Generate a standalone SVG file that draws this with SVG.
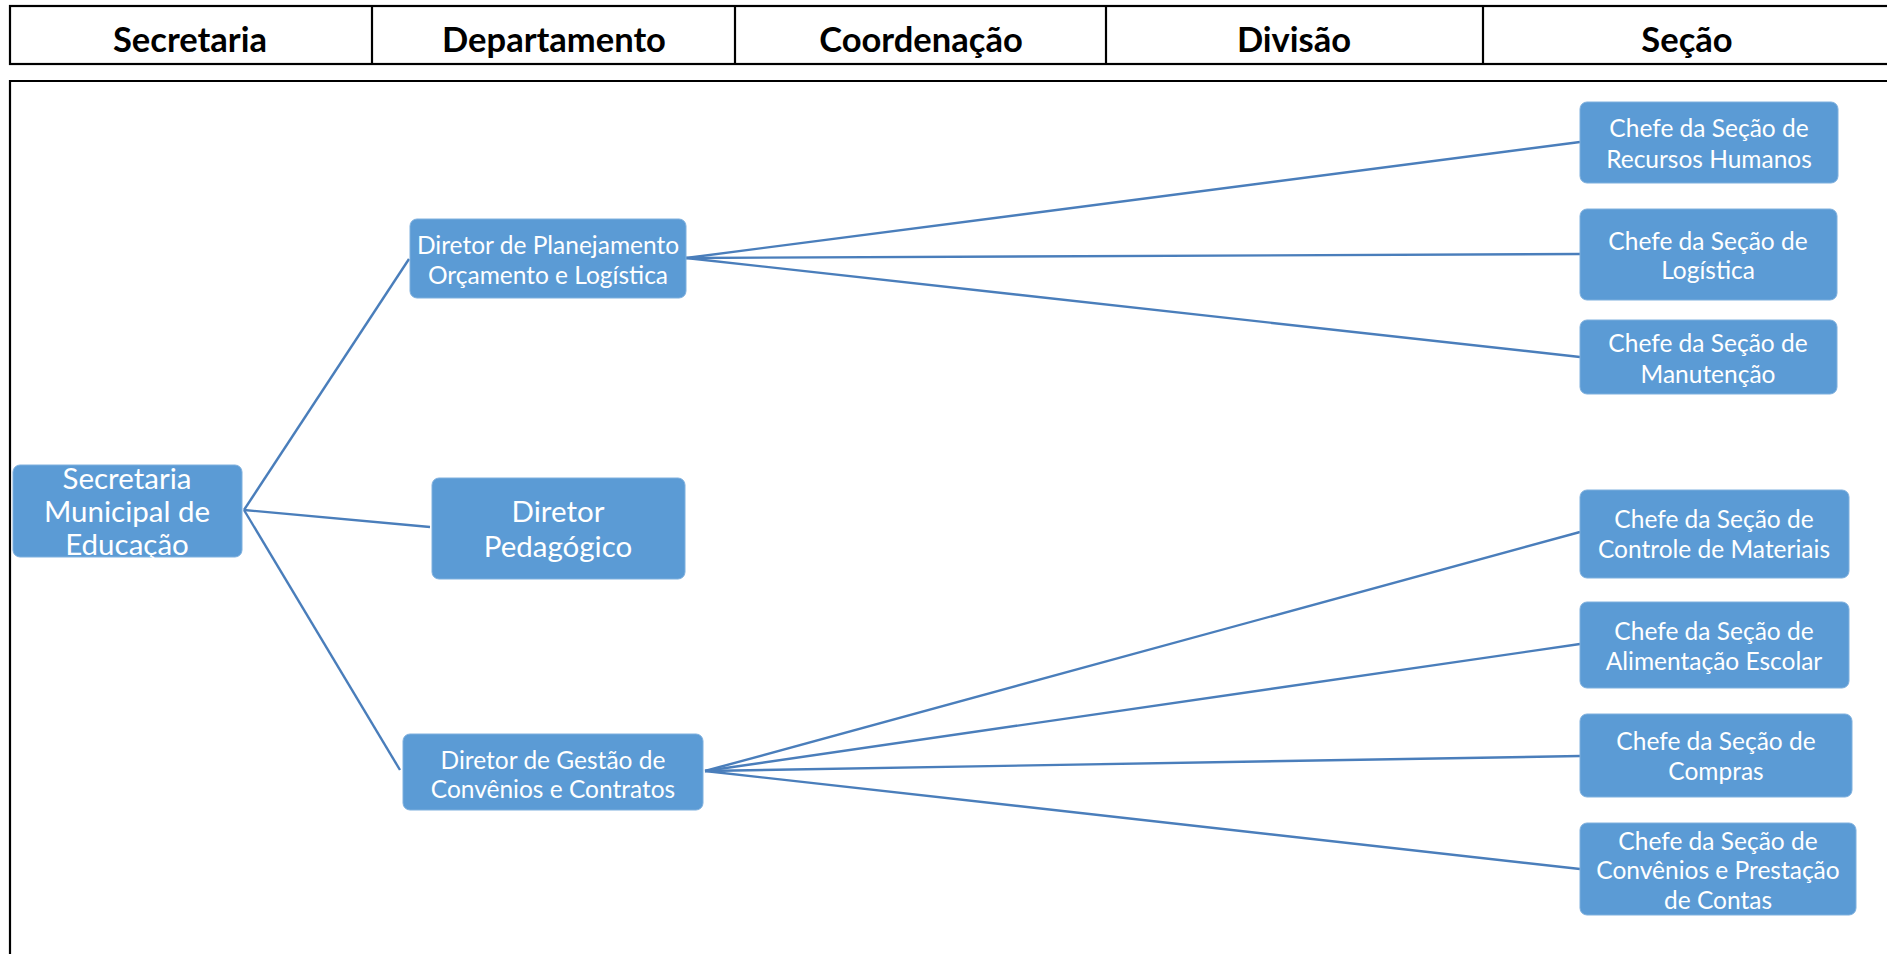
<svg xmlns="http://www.w3.org/2000/svg" width="1887" height="954" viewBox="0 0 1887 954">
<style>
.frame{fill:none;stroke:#000;stroke-width:2.2}
.hdr{font-family:Lato,"Liberation Sans",sans-serif;font-weight:bold;font-size:34.5px;fill:#000;text-anchor:middle}
.box{fill:#5b9bd5;stroke:#7fb0de;stroke-width:1}
.t{font-family:Lato,"Liberation Sans",sans-serif;font-size:24.5px;fill:#fff;text-anchor:middle;dominant-baseline:central}
.tb{font-size:29.5px}
.ln{stroke:#4a7ebb;stroke-width:2.4;fill:none}
</style>
<rect width="1887" height="954" fill="#fff"/>
<g id="header">
<rect class="frame" x="10" y="6" width="1890" height="58"/>
<line class="frame" x1="372" y1="6" x2="372" y2="64"/>
<line class="frame" x1="735" y1="6" x2="735" y2="64"/>
<line class="frame" x1="1106" y1="6" x2="1106" y2="64"/>
<line class="frame" x1="1483" y1="6" x2="1483" y2="64"/>
<text class="hdr" x="190" y="52">Secretaria</text>
<text class="hdr" x="554" y="52">Departamento</text>
<text class="hdr" x="921" y="52">Coordenação</text>
<text class="hdr" x="1294" y="52">Divisão</text>
<text class="hdr" x="1687" y="52">Seção</text>
</g>
<g id="body-frame">
<polyline class="frame" points="1890,81 10,81 10,956"/>
</g>
<g id="connectors">
<line class="ln" x1="244" y1="510" x2="409" y2="259"/>
<line class="ln" x1="244" y1="510" x2="430" y2="527"/>
<line class="ln" x1="244" y1="510" x2="400" y2="770"/>
<line class="ln" x1="686" y1="258" x2="1580" y2="142"/>
<line class="ln" x1="686" y1="258" x2="1580" y2="254"/>
<line class="ln" x1="686" y1="258" x2="1580" y2="357"/>
<line class="ln" x1="705" y1="771" x2="1580" y2="532"/>
<line class="ln" x1="705" y1="771" x2="1580" y2="644"/>
<line class="ln" x1="705" y1="771" x2="1580" y2="756"/>
<line class="ln" x1="705" y1="771" x2="1580" y2="869"/>
</g>
<g id="n-secretaria">
<rect class="box" x="13" y="465" width="229" height="92" rx="7"/>
<text class="t tb" x="127" y="477">Secretaria</text>
<text class="t tb" x="127" y="510">Municipal de</text>
<text class="t tb" x="127" y="543">Educação</text>
</g>
<g id="n-planejamento">
<rect class="box" x="410" y="219" width="276" height="79" rx="7"/>
<text class="t" x="548" y="244">Diretor de Planejamento</text>
<text class="t" x="548" y="274">Orçamento e Logística</text>
</g>
<g id="n-pedagogico">
<rect class="box" x="432" y="478" width="253" height="101" rx="7"/>
<text class="t tb" x="558" y="510">Diretor</text>
<text class="t tb" x="558" y="545">Pedagógico</text>
</g>
<g id="n-gestao">
<rect class="box" x="403" y="734" width="300" height="76" rx="7"/>
<text class="t" x="553" y="759">Diretor de Gestão de</text>
<text class="t" x="553" y="788">Convênios e Contratos</text>
</g>
<g id="n-rh">
<rect class="box" x="1580" y="102" width="258" height="81" rx="7"/>
<text class="t" x="1709" y="127">Chefe da Seção de</text>
<text class="t" x="1709" y="158">Recursos Humanos</text>
</g>
<g id="n-logistica">
<rect class="box" x="1580" y="209" width="257" height="91" rx="7"/>
<text class="t" x="1708" y="240">Chefe da Seção de</text>
<text class="t" x="1708" y="269">Logística</text>
</g>
<g id="n-manutencao">
<rect class="box" x="1580" y="320" width="257" height="74" rx="7"/>
<text class="t" x="1708" y="342">Chefe da Seção de</text>
<text class="t" x="1708" y="373">Manutenção</text>
</g>
<g id="n-materiais">
<rect class="box" x="1580" y="490" width="269" height="88" rx="7"/>
<text class="t" x="1714" y="518">Chefe da Seção de</text>
<text class="t" x="1714" y="548">Controle de Materiais</text>
</g>
<g id="n-alimentacao">
<rect class="box" x="1580" y="602" width="269" height="86" rx="7"/>
<text class="t" x="1714" y="630">Chefe da Seção de</text>
<text class="t" x="1714" y="660">Alimentação Escolar</text>
</g>
<g id="n-compras">
<rect class="box" x="1580" y="714" width="272" height="83" rx="7"/>
<text class="t" x="1716" y="740">Chefe da Seção de</text>
<text class="t" x="1716" y="770">Compras</text>
</g>
<g id="n-convenios">
<rect class="box" x="1580" y="823" width="276" height="92" rx="7"/>
<text class="t" x="1718" y="840">Chefe da Seção de</text>
<text class="t" x="1718" y="869">Convênios e Prestação</text>
<text class="t" x="1718" y="899">de Contas</text>
</g>
</svg>
